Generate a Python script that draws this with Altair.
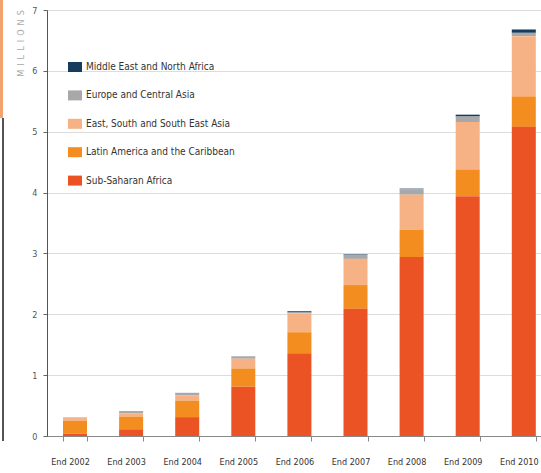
import altair as alt
import pandas as pd

# People receiving antiretroviral therapy, by region (millions)
years = ["End 2002", "End 2003", "End 2004", "End 2005", "End 2006",
         "End 2007", "End 2008", "End 2009", "End 2010"]
sub_saharan = [0.04, 0.11, 0.31, 0.81, 1.36, 2.09, 2.94, 3.94, 5.08]
latin_america = [0.21, 0.21, 0.27, 0.30, 0.345, 0.39, 0.45, 0.44, 0.50]
east_asia = [0.045, 0.055, 0.09, 0.16, 0.31, 0.43, 0.575, 0.78, 0.99]
europe_ca = [0.01, 0.035, 0.04, 0.04, 0.015, 0.07, 0.09, 0.09, 0.055]
mena = [0.0, 0.0, 0.0, 0.0, 0.02, 0.01, 0.01, 0.03, 0.055]

regions = ["Middle East and North Africa", "Europe and Central Asia",
           "East, South and South East Asia", "Latin America and the Caribbean",
           "Sub-Saharan Africa"]
colors = ["#173b5c", "#a8a8a8", "#f6b185", "#f38d1f", "#ec5324"]
series = [mena, europe_ca, east_asia, latin_america, sub_saharan]

rows = []
for r_idx, (name, vals) in enumerate(zip(regions, series)):
    for y, v in zip(years, vals):
        # stack order: Sub-Saharan Africa at the bottom
        rows.append({"year": y, "region": name, "value": v,
                     "stack": len(regions) - 1 - r_idx})
df = pd.DataFrame(rows)

FONT = "DejaVu Sans Condensed, Liberation Sans, sans-serif"

bars = alt.Chart(df).mark_bar().encode(
    x=alt.X("year:N", sort=years, title=None,
            scale=alt.Scale(paddingInner=0.572, paddingOuter=0.189, align=0.755),
            axis=alt.Axis(labelAngle=0, tickBand="extent", tickSize=5,
                          tickColor="#888", domainColor="#888",
                          labelPadding=16, labelOffset=-5, labelFont=FONT,
                          labelFontSize=9, labelColor="#333", labelLimit=0,
                          grid=False)),
    y=alt.Y("value:Q", stack="zero",
            scale=alt.Scale(domain=[0, 7], nice=False),
            title="M\u2002I\u2002L\u2002L\u2002I\u2002O\u2002N\u2002S",
            axis=alt.Axis(values=list(range(8)), tickSize=4, tickColor="#666",
                          domainColor="#555", labelPadding=6, labelFont=FONT,
                          labelFontSize=9, labelColor="#555",
                          gridColor="#dcdcdc", gridWidth=1,
                          titleAnchor="end", titleAngle=-90, titleX=-27,
                          titleY=33, titleAlign="center", titleBaseline="middle",
                          titleFont=FONT, titleFontSize=9,
                          titleFontWeight="normal", titleColor="#aaaaaa")),
    color=alt.Color("region:N",
                    scale=alt.Scale(domain=regions, range=colors),
                    legend=alt.Legend(title=None, orient="none",
                                      legendX=23, legendY=52, padding=0,
                                      symbolType="M-1.4,-1H1.4V1H-1.4Z",
                                      symbolSize=100, symbolStrokeWidth=0,
                                      symbolOpacity=1,
                                      labelFont=FONT, labelFontSize=10,
                                      labelColor="#333", labelOffset=6,
                                      labelLimit=0, rowPadding=18.4)),
    order=alt.Order("stack:Q", sort="ascending"),
)

# page-edge accent: orange tab above a thin dark rule
edge_tab = alt.Chart(df).mark_rule(color="#f4a26e", strokeWidth=3).encode(
    x=alt.value(-46), y=alt.value(-10), y2=alt.value(108))
edge_rule = alt.Chart(df).mark_rule(color="#555555", strokeWidth=1.5).encode(
    x=alt.value(-44), y=alt.value(108), y2=alt.value(431))

chart = alt.layer(bars, edge_tab, edge_rule).properties(
    width=494, height=426,
    autosize=alt.AutoSizeParams(type="none"),
    padding={"left": 47, "top": 10, "right": 0, "bottom": 37},
).configure_view(stroke=None).configure(background="white")

chart.save("out.html", embed_options={"renderer": "svg", "actions": False})
